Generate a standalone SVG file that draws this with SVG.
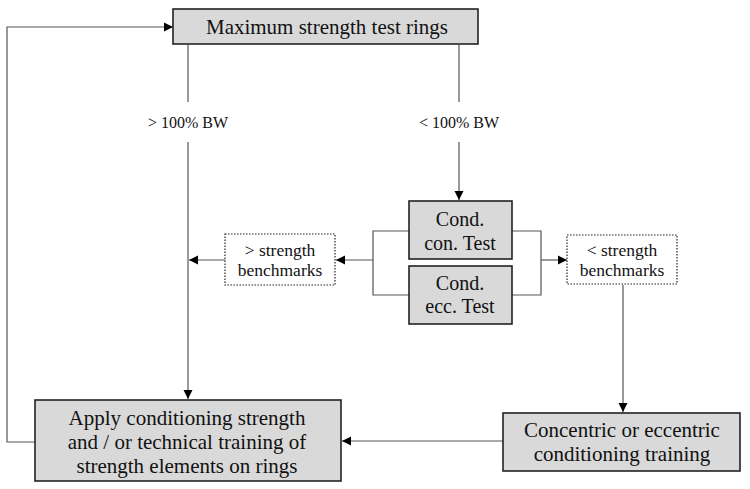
<svg xmlns="http://www.w3.org/2000/svg" width="750" height="489" viewBox="0 0 750 489">
<defs>
<style>
.box{fill:#d9d9d9;stroke:#222;stroke-width:1.6}
.dot{fill:#fff;stroke:#222;stroke-width:1.2;stroke-dasharray:1.5 1.5}
.ln{fill:none;stroke:#555;stroke-width:1.2}
text{font-family:"Liberation Serif","Times New Roman",serif;fill:#111;text-anchor:middle}
.t{font-size:21px}
.c{font-size:20px}
.s{font-size:17.5px}
.l{font-size:16px}
</style>
<marker id="ah" markerWidth="10" markerHeight="10" refX="9" refY="5" orient="auto" markerUnits="userSpaceOnUse">
<path d="M0,0.5 L9,5 L0,9.5 Z" fill="#000"/>
</marker>
</defs>
<rect width="750" height="489" fill="#fff"/>
<g id="connectors">
<path class="ln" d="M188,45 V102"/>
<path class="ln" d="M188,142 V399" marker-end="url(#ah)"/>
<path class="ln" d="M459,45 V102"/>
<path class="ln" d="M459,142 V200" marker-end="url(#ah)"/>
<path class="ln" d="M409,231 H373 V295 H409"/>
<path class="ln" d="M512,231 H541 V295 H512"/>
<path class="ln" d="M373,260 H336" marker-end="url(#ah)"/>
<path class="ln" d="M225,260 H189" marker-end="url(#ah)"/>
<path class="ln" d="M541,260 H567" marker-end="url(#ah)"/>
<path class="ln" d="M623,285 V412" marker-end="url(#ah)"/>
<path class="ln" d="M503,441 H342" marker-end="url(#ah)"/>
<path class="ln" d="M35,442 H7 V27 H173" marker-end="url(#ah)"/>
<text class="l" x="188" y="128">&gt; 100% BW</text>
<text class="l" x="459" y="128">&lt; 100% BW</text>
</g>
<g id="max-test">
<rect class="box" x="173" y="9" width="305" height="35"/>
<text class="t" x="327" y="34">Maximum strength test rings</text>
</g>
<g id="cond-con">
<rect class="box" x="409" y="201" width="103" height="58"/>
<text class="c" x="460" y="226">Cond.</text>
<text class="c" x="460" y="250">con. Test</text>
</g>
<g id="cond-ecc">
<rect class="box" x="409" y="266" width="103" height="58"/>
<text class="c" x="460" y="290">Cond.</text>
<text class="c" x="460" y="313">ecc. Test</text>
</g>
<g id="gt-bench">
<rect class="dot" x="225" y="234" width="110" height="51"/>
<text class="s" x="280" y="256">&gt; strength</text>
<text class="s" x="280" y="276">benchmarks</text>
</g>
<g id="lt-bench">
<rect class="dot" x="567" y="235" width="110" height="49"/>
<text class="s" x="622" y="256">&lt; strength</text>
<text class="s" x="622" y="276">benchmarks</text>
</g>
<g id="apply">
<rect class="box" x="35" y="400" width="306" height="81"/>
<text class="t" x="187" y="425">Apply conditioning strength</text>
<text class="t" x="187" y="449">and / or technical training of</text>
<text class="t" x="187" y="473">strength elements on rings</text>
</g>
<g id="concentric">
<rect class="box" x="503" y="413" width="237" height="58"/>
<text class="t" x="622" y="437">Concentric or eccentric</text>
<text class="t" x="622" y="461">conditioning training</text>
</g>
</svg>
